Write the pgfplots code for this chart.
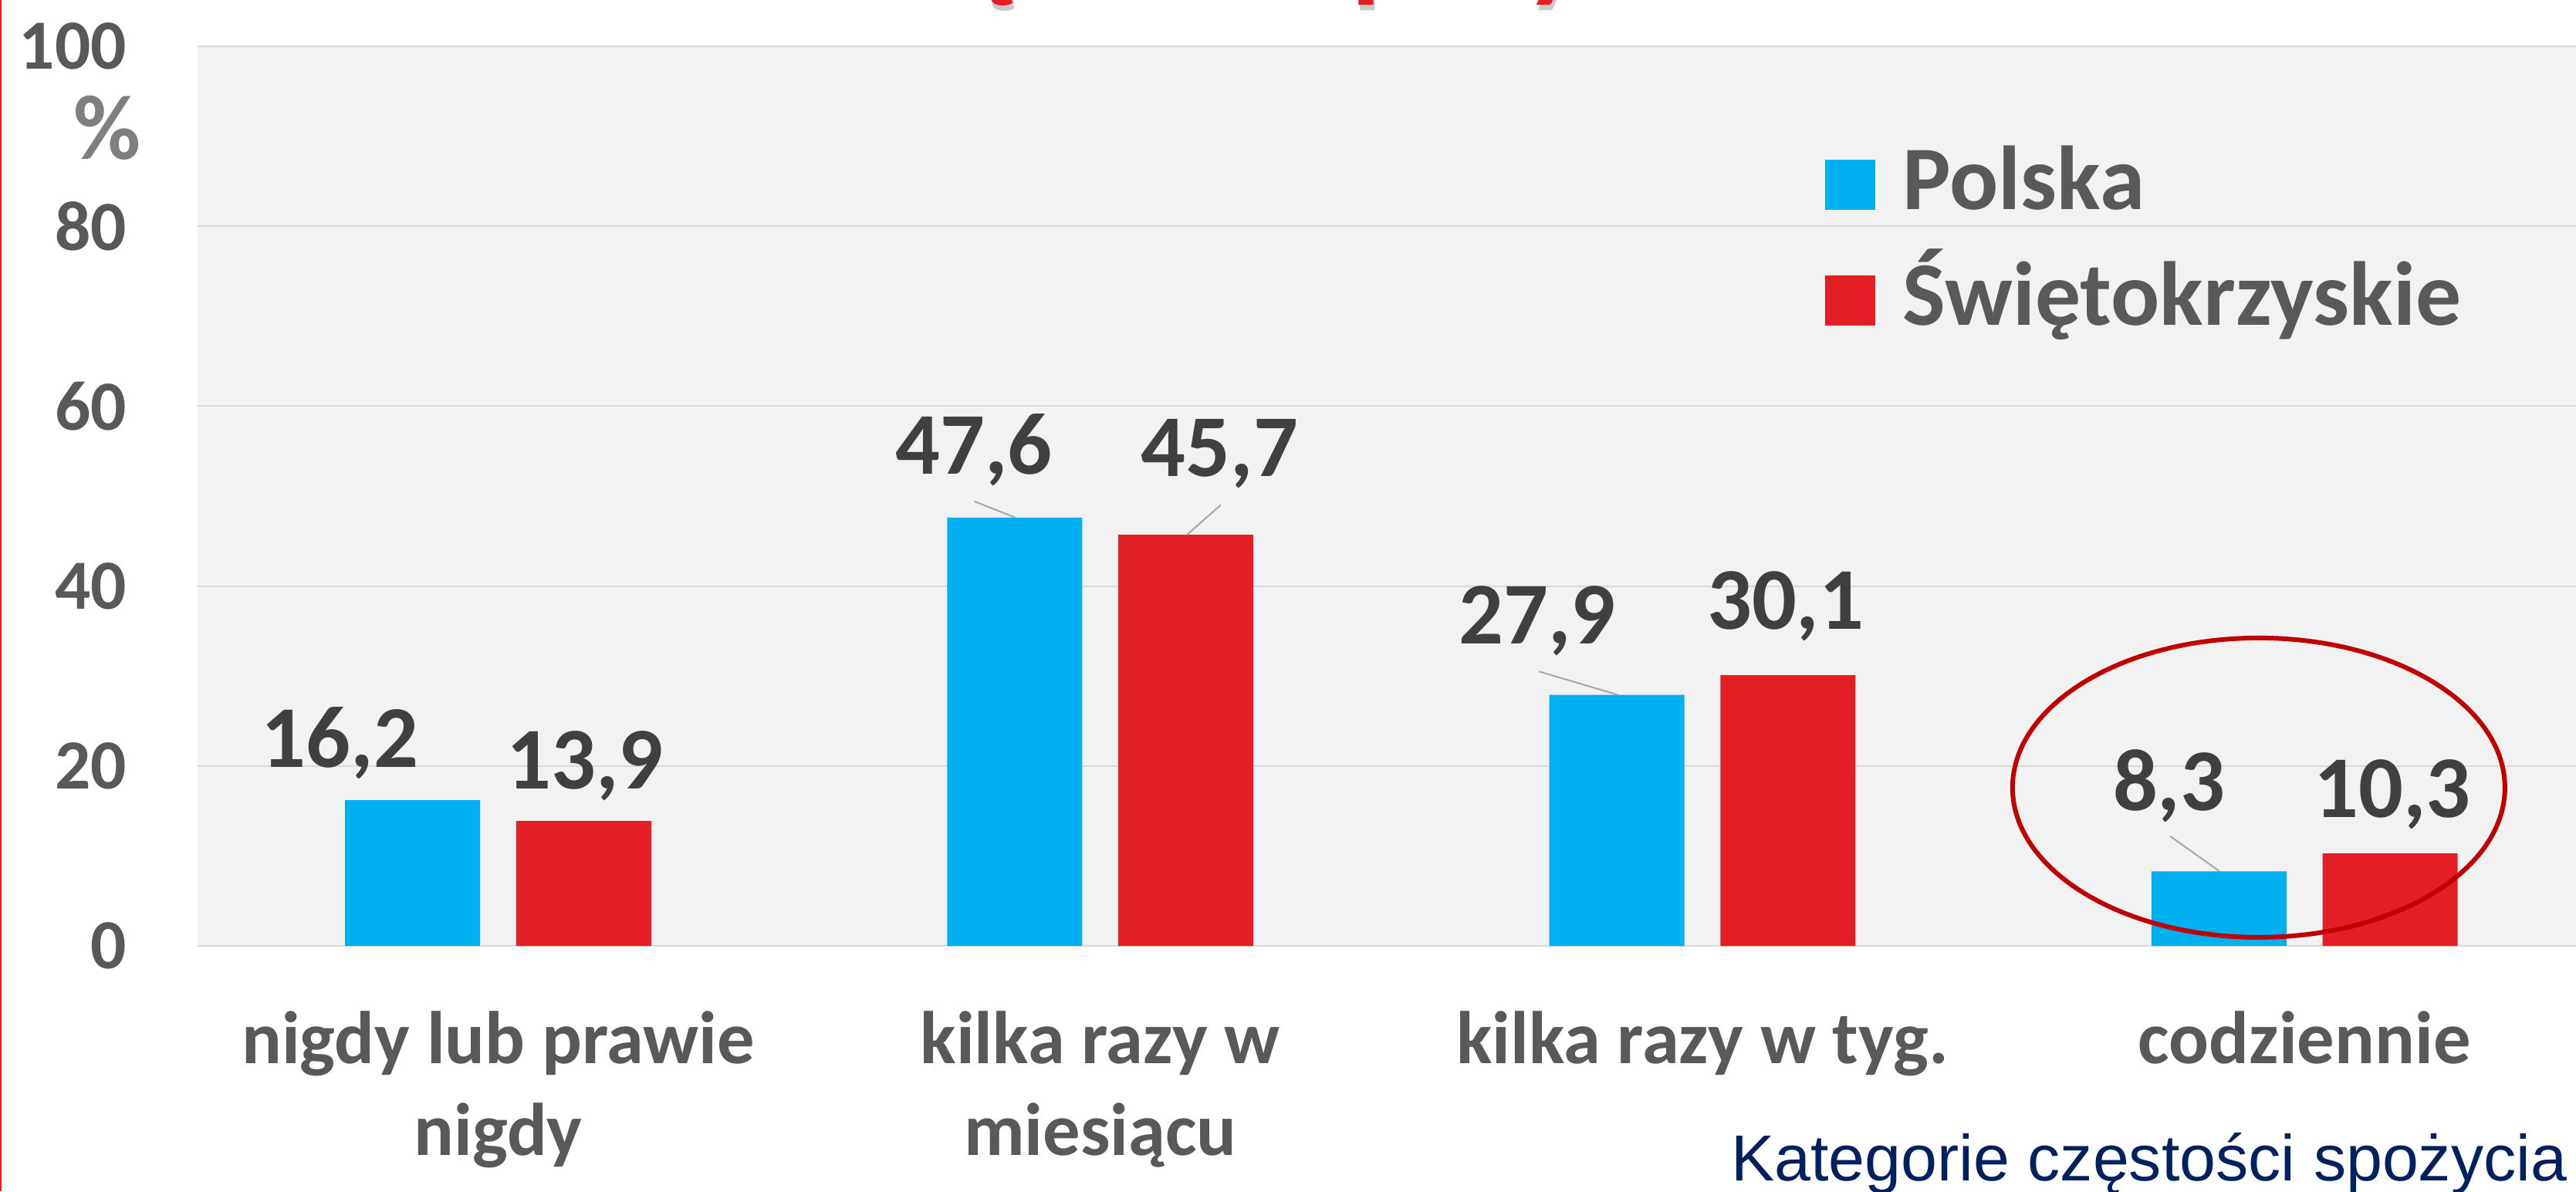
\documentclass[border=0pt]{standalone}
\usepackage{fontspec}
\setmainfont{Carlito}
\newfontfamily\arialfont{Liberation Sans}
\usepackage{pgfplots}
\pgfplotsset{compat=1.18}
\definecolor{cblue}{HTML}{00B0F0}
\definecolor{cred}{HTML}{E31E24}
\definecolor{ticktext}{HTML}{595959}
\definecolor{valtext}{HTML}{404040}
\definecolor{pct}{HTML}{7F7F7F}
\definecolor{gridc}{HTML}{D9D9D9}
\definecolor{bgc}{HTML}{F2F2F2}
\definecolor{navy}{HTML}{002060}
\definecolor{ellc}{HTML}{C00000}
\definecolor{leader}{HTML}{A6A6A6}
\begin{document}
\begin{tikzpicture}
\useasboundingbox (0,0) rectangle (33.38,15.44);
\fill[white] (0,0) rectangle (33.38,15.44);
\fill[cred] (0,0) rectangle (0.02,15.44);
% title (mostly above the page)
\node[anchor=base, font=\fontsize{44}{50}\selectfont\bfseries, text=gray!70, opacity=0.6] at (16.73,15.54) {Częstość spożycia};
\node[anchor=base, font=\fontsize{44}{50}\selectfont\bfseries, text=cred] at (16.71,15.61) {Częstość spożycia};
\begin{axis}[
  at={(2.555cm,3.178cm)}, anchor=south west,
  scale only axis, width=30.825cm, height=11.666cm,
  xmin=-0.5, xmax=3.451, ymin=0, ymax=100,
  ybar, bar width=1.75cm,
  axis line style={draw=none},
  axis background/.style={fill=bgc},
  ymajorgrids, grid style={gridc, line width=0.02cm},
  ytick={0,20,40,60,80,100},
  xtick={0,1,2,3},
  xticklabels={{nigdy lub prawie\\nigdy},{kilka razy w\\miesiącu},{kilka razy w tyg.\\\mbox{}},{codziennie\\\mbox{}}},
  major tick length=0pt,
  /pgf/number format/assume math mode=true,
  yticklabel style={font=\fontsize{26}{30}\selectfont\bfseries, text=ticktext, anchor=east, inner sep=0pt, xshift=-0.91cm},
  xticklabel style={font=\fontsize{27.5}{33.6}\selectfont\bfseries, text=ticktext, align=center, anchor=base, inner sep=0pt, yshift=-2.708cm},
  legend image code/.code={\fill[#1] (0cm,-0.28cm) rectangle (0.65cm,0.37cm);},
  legend style={at={(axis description cs:0.6843,0.883)}, anchor=north west, draw=none, fill=none, inner sep=0pt, outer sep=0pt,
    font=\fontsize{33.5}{38}\selectfont\bfseries, text=ticktext, row sep=0.55cm, column sep=0.36cm,
    nodes={inner sep=0pt, text height=0.75cm, text depth=0.2cm}},
  legend cell align=left,
  clip=false,
]
\addplot[fill=cblue, draw=none, bar shift=-1.109cm] coordinates {(0,16.2) (1,47.6) (2,27.9) (3,8.3)};
\addplot[fill=cred, draw=none, bar shift=1.109cm] coordinates {(0,13.9) (1,45.7) (2,30.1) (3,10.3)};
\legend{Polska, Świętokrzyskie}
% value labels
\begin{scope}[every node/.style={anchor=base, inner sep=0pt, font=\fontsize{32.5}{38}\selectfont\bfseries, text=valtext}]
\node at (axis cs:-0.263,19.9) {16,2};
\node at (axis cs:0.144,17.5) {13,9};
\node at (axis cs:0.790,52.4) {47,6};
\node at (axis cs:1.198,52.2) {45,7};
\node at (axis cs:1.726,33.6) {27,9};
\node at (axis cs:2.138,35.2) {30,1};
\node at (axis cs:2.775,15.1) {8,3};
\node at (axis cs:3.146,14.3) {10,3};
\end{scope}
\draw[leader, line width=0.02cm] (axis cs:0.791,49.4) -- (axis cs:0.859,47.6);
\draw[leader, line width=0.02cm] (axis cs:1.200,49.0) -- (axis cs:1.144,45.7);
\draw[leader, line width=0.02cm] (axis cs:1.729,30.5) -- (axis cs:1.860,27.9);
\draw[leader, line width=0.02cm] (axis cs:2.777,12.2) -- (axis cs:2.859,8.3);
\draw[ellc, line width=0.06cm] (axis cs:2.924,17.6) ellipse [x radius=3.19cm, y radius=1.94cm];
\end{axis}
\node[font=\fontsize{34}{40}\selectfont\bfseries, text=pct] at (1.39,13.78) {\%};
\node[anchor=base east, inner sep=0pt, font=\arialfont\fontsize{24}{28}\selectfont, text=navy] at (33.27,0.14) {Kategorie częstości spożycia};
\end{tikzpicture}
\end{document}
